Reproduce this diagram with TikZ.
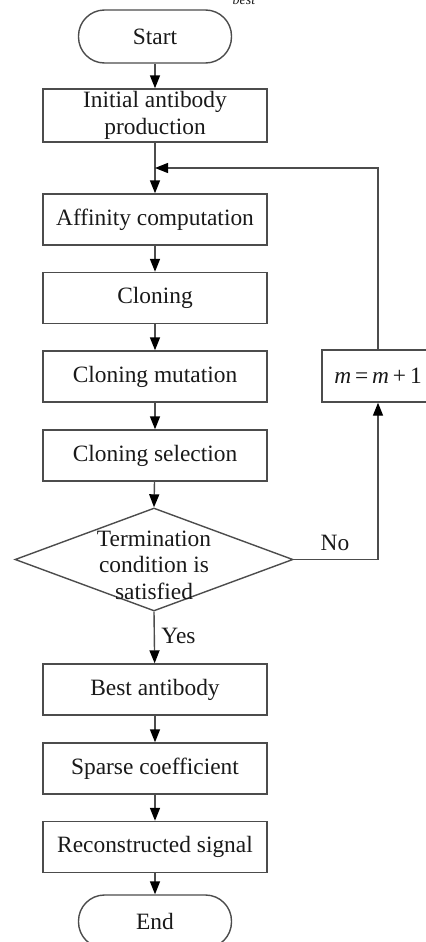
\documentclass[tikz,border=0pt]{standalone}
\usepackage{fontspec}
\setmainfont{Liberation Serif}
\usetikzlibrary{shapes.geometric,arrows.meta}
\definecolor{linec}{gray}{0.3}
\definecolor{txtc}{gray}{0.1}
\newcommand{\mfnt}{\fontsize{11.7}{13.2}\selectfont}
\begin{document}
\begin{tikzpicture}[x=0.5pt,y=-0.5pt,
  box/.style={draw=linec, line width=0.7pt, minimum width=112pt, minimum height=25.5pt, inner sep=0pt, align=center, font=\mfnt, text=txtc},
  term/.style={box, rounded corners=13pt, minimum width=76.5pt, minimum height=26.5pt},
  arr/.style={draw=linec, line width=0.7pt, -{Triangle[length=6.5pt,width=5pt,color=black,fill=black]}},
  lin/.style={draw=linec, line width=0.7pt},
  lbl/.style={font=\mfnt, text=txtc, inner sep=0pt, align=center}]
\useasboundingbox (0,0) rectangle (425,942);
\node[font=\fontsize{7}{8}\selectfont\itshape, text=txtc, anchor=base, inner sep=0pt] (bestfrag) at (244,4) {best};
\node[term] (start) at (155,36.5) {Start};
\node[box, minimum height=26.5pt] (init) at (155,115.5) {Initial antibody\\production};
\node[box] (aff) at (155,219.5) {Affinity computation};
\node[box] (clon) at (155,298) {Cloning};
\node[box] (mut) at (155,376.5) {Cloning mutation};
\node[box] (sel) at (155,455.5) {Cloning selection};
\node[draw=linec, line width=0.7pt, shape=diamond, minimum width=139pt, minimum height=51.5pt, inner sep=0pt] (dec) at (154,559.5) {};
\node[lbl] (dectext) at (154,565) {Termination\\condition is\\satisfied};
\node[box] (best) at (155,689.5) {Best antibody};
\node[box] (sparse) at (155,768.5) {Sparse coefficient};
\node[box] (recon) at (155,847) {Reconstructed signal};
\node[term] (end) at (155,921.5) {End};
\node[box, minimum width=56pt, minimum height=26pt] (mbox) at (378,376) {\textit{m}\,=\,\textit{m}\,+\,1};
\coordinate (j) at (155,168);
\coordinate (cr) at (378,559.5);
\coordinate (ct) at (378,168);
\draw[arr] (start) -- (init);
\draw[arr] (init) -- (aff);
\draw[arr] (aff) -- (clon);
\draw[arr] (clon) -- (mut);
\draw[arr] (mut) -- (sel);
\draw[arr] (sel) -- (dec.north);
\draw[arr] (dec.south) -- (best);
\draw[arr] (best) -- (sparse);
\draw[arr] (sparse) -- (recon);
\draw[arr] (recon) -- (end);
\draw[arr] (dec.east) -- (cr) -- (mbox.south);
\draw[arr] (mbox.north) -- (ct) -- (j);
\node[lbl] (yes) at (178.5,636) {Yes};
\node[lbl] (no) at (335,543) {No};
\end{tikzpicture}
\end{document}
